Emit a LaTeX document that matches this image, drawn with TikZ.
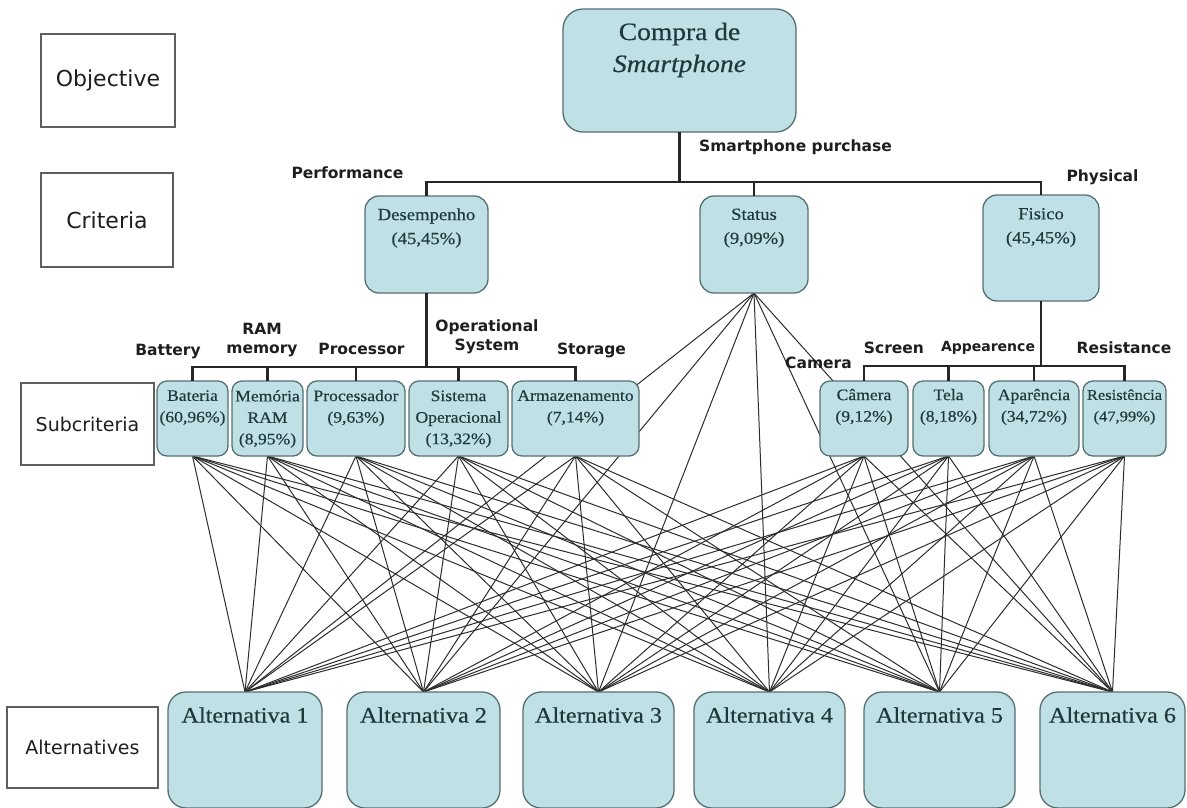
\documentclass[tikz,border=0pt]{standalone}
\usepackage{fontspec}
\setmainfont{Liberation Serif}
\newfontfamily\bxfont{Liberation Serif}[FakeStretch=1.1,FakeBold=0.4]
\newfontfamily\lbfont{DejaVu Sans}
\usetikzlibrary{backgrounds}
\definecolor{bxfill}{RGB}{191,225,229}
\definecolor{bxline}{RGB}{84,112,114}
\definecolor{bxtext}{RGB}{32,56,60}
\definecolor{lbline}{RGB}{95,95,95}
\definecolor{lbtext}{RGB}{30,30,30}
\definecolor{fanc}{RGB}{45,45,45}
\tikzset{
  bx/.style={draw=bxline, fill=bxfill, line width=1.3pt, rounded corners=#1, inner sep=0pt, outer sep=0pt},
  bx/.default=10pt,
  lb/.style={draw=lbline, fill=white, line width=1.3pt, inner sep=0pt, outer sep=0pt},
  lbt/.style={font=\lbfont\fontsize{#1}{#1}\selectfont, text=lbtext},
  topt/.style={font=\bxfont\fontsize{25}{32}\selectfont, text=bxtext, align=center, inner sep=0pt},
  crt/.style={font=\bxfont\fontsize{17}{24}\selectfont, text=bxtext, align=center, inner sep=0pt},
  sct/.style={font=\bxfont\fontsize{#1}{21.5}\selectfont, text=bxtext, align=center, inner sep=0pt},
  sct/.default=16,
  alttxt/.style={font=\bxfont\fontsize{22}{26}\selectfont, text=bxtext, inner sep=0pt},
  tag/.style={font=\lbfont\bfseries\fontsize{#1}{19}\selectfont, text=lbtext, align=center, inner sep=0pt},
  tag/.default=15.5,
  tree/.style={line width=2.6pt, black!85},
  fan/.style={line width=1pt, fanc},
}
\begin{document}
\begin{tikzpicture}[x=1pt,y=-1pt]
\useasboundingbox (0,0) rectangle (1187,807);

% level labels
\node[lb, lbt=22, minimum width=134pt, minimum height=93pt] (obj) at (108,80.5) {Objective};
\node[lb, lbt=22, minimum width=132pt, minimum height=94pt] (cri) at (107,220) {Criteria};
\node[lb, lbt=19, minimum width=133pt, minimum height=82pt] (sub) at (87.5,424) {Subcriteria};
\node[lb, lbt=19, minimum width=151pt, minimum height=81pt] (alts) at (82.5,747.5) {Alternatives};

% objective
\node[bx=20pt, minimum width=233pt, minimum height=123pt] (top) at (679.5,70.5) {};
\node[topt] (topt) at (679.5,50) {Compra de\\\textit{Smartphone}};

% criteria
\node[bx=14pt, minimum width=123pt, minimum height=97pt] (des) at (426.5,244.5) {};
\node[crt] (dest) at (426.5,228) {Desempenho\\(45,45\%)};
\node[bx=14pt, minimum width=108pt, minimum height=97pt] (sta) at (754,244.5) {};
\node[crt] (stat) at (754,228) {Status\\(9,09\%)};
\node[bx=14pt, minimum width=116pt, minimum height=106pt] (fis) at (1041,248) {};
\node[crt] (fist) at (1041,227.5) {Fisico\\(45,45\%)};

% subcriteria
\node[bx, minimum width=71pt, minimum height=75pt] (bat) at (192.5,418.5) {};
\node[sct] (batt) at (192.5,408) {Bateria\\(60,96\%)};
\node[bx, minimum width=71pt, minimum height=75pt] (mem) at (267.5,418.5) {};
\node[sct] (memt) at (267.5,419) {Memória\\RAM\\(8,95\%)};
\node[bx, minimum width=98pt, minimum height=75pt] (pro) at (356,418.5) {};
\node[sct] (prot) at (356,408) {Processador\\(9,63\%)};
\node[bx, minimum width=99pt, minimum height=75pt] (sis) at (458.5,418.5) {};
\node[sct] (sist) at (458.5,419) {Sistema\\Operacional\\(13,32\%)};
\node[bx, minimum width=127pt, minimum height=75pt] (arm) at (575.5,418.5) {};
\node[sct] (armt) at (575.5,408) {Armazenamento\\(7,14\%)};
\node[bx, minimum width=88pt, minimum height=75pt] (cam) at (864,418.5) {};
\node[sct] (camt) at (864,407) {Câmera\\(9,12\%)};
\node[bx, minimum width=71pt, minimum height=75pt] (tel) at (948.5,418.5) {};
\node[sct] (telt) at (948.5,407) {Tela\\(8,18\%)};
\node[bx, minimum width=90pt, minimum height=75pt] (apa) at (1034,418.5) {};
\node[sct] (apat) at (1034,407) {Aparência\\(34,72\%)};
\node[bx, minimum width=83pt, minimum height=75pt] (res) at (1124.5,418.5) {};
\node[sct=15] (rest) at (1124.5,407) {Resistência\\(47,99\%)};

% alternatives
\node[bx=18pt, minimum width=154pt, minimum height=116pt] (a1) at (245,750) {};
\node[alttxt] (a1t) at (245,715) {Alternativa 1};
\node[bx=18pt, minimum width=153pt, minimum height=116pt] (a2) at (423.5,750) {};
\node[alttxt] (a2t) at (423.5,715) {Alternativa 2};
\node[bx=18pt, minimum width=151pt, minimum height=116pt] (a3) at (598.5,750) {};
\node[alttxt] (a3t) at (598.5,715) {Alternativa 3};
\node[bx=18pt, minimum width=151pt, minimum height=116pt] (a4) at (769.5,750) {};
\node[alttxt] (a4t) at (769.5,715) {Alternativa 4};
\node[bx=18pt, minimum width=151pt, minimum height=116pt] (a5) at (939.5,750) {};
\node[alttxt] (a5t) at (939.5,715) {Alternativa 5};
\node[bx=18pt, minimum width=145pt, minimum height=116pt] (a6) at (1112.5,750) {};
\node[alttxt] (a6t) at (1112.5,715) {Alternativa 6};

% tree connectors
\coordinate (j0) at (679.5,182);
\draw[tree] (top.south) -- (j0);
\draw[tree] (des.north) -- (des.north |- j0) -- (fis.north |- j0) -- (fis.north);
\draw[tree] (sta.north) -- (sta.north |- j0);
\coordinate (j1) at (426.5,367);
\draw[tree] (des.south) -- (j1);
\draw[tree] (bat.north) -- (bat.north |- j1) -- (arm.north |- j1) -- (arm.north);
\foreach \n in {mem,pro,sis} \draw[tree] (\n.north) -- (\n.north |- j1);
\coordinate (j2) at (1041,366);
\draw[tree] (fis.south) -- (j2);
\draw[tree] (cam.north) -- (cam.north |- j2) -- (res.north |- j2) -- (res.north);
\foreach \n in {tel,apa} \draw[tree] (\n.north) -- (\n.north |- j2);

% connector labels
\node[tag] (lsp) at (795.5,147) {Smartphone purchase};
\node[tag] (lperf) at (347.5,173) {Performance};
\node[tag] (lphy) at (1102.5,177) {Physical};
\node[tag] (lbat) at (168,352) {Battery};
\node[tag] (lram) at (262,340) {RAM\\memory};
\node[tag] (lpro) at (361.5,349) {Processor};
\node[tag] (lops) at (487,337) {Operational\\System};
\node[tag] (lsto) at (591.5,350) {Storage};
\node[tag] (lcam) at (818.5,363) {Camera};
\node[tag] (lscr) at (894,348) {Screen};
\node[tag=14] (lapp) at (988,348) {Appearence};
\node[tag] (lres) at (1124,348) {Resistance};

% fan of connectors behind the boxes
\begin{pgfonlayer}{background}
\fill[white] (0,0) rectangle (1187,807);
\foreach \s in {bat,mem,pro,sis,arm,sta,cam,tel,apa,res}
  \foreach \a in {a1,a2,a3,a4,a5,a6}
    \draw[fan] (\s.south) -- (\a.north);
\end{pgfonlayer}
\end{tikzpicture}
\end{document}
